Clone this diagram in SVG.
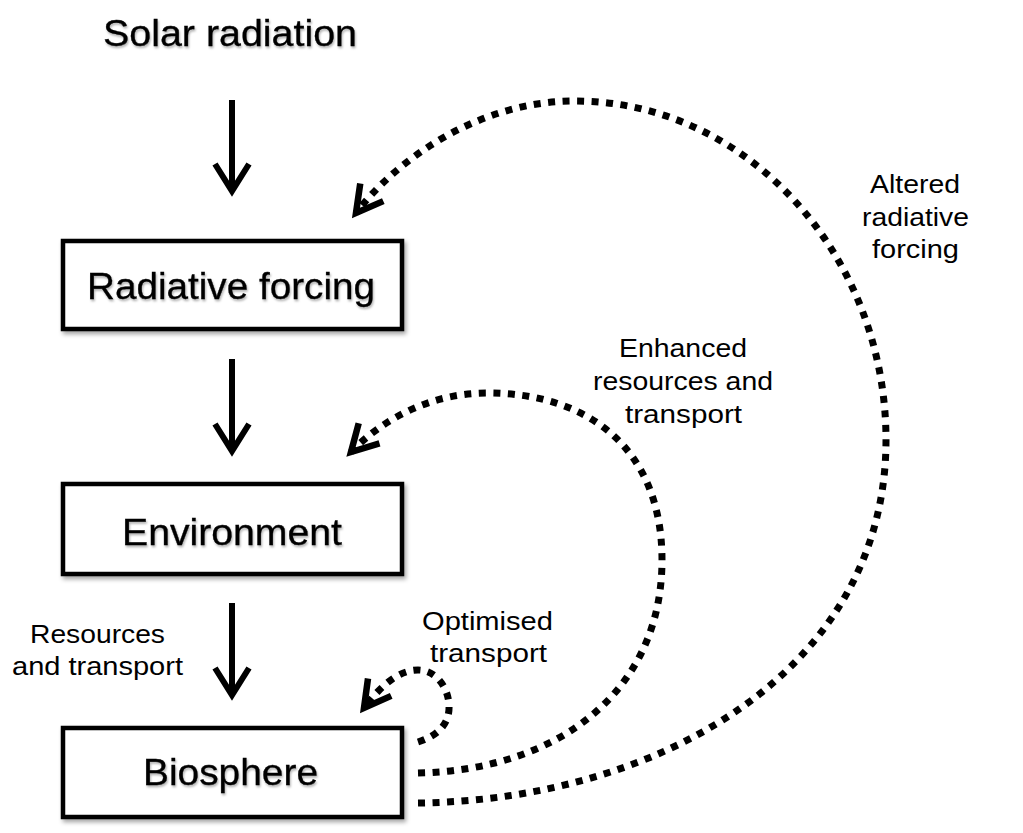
<svg xmlns="http://www.w3.org/2000/svg" width="1023" height="833" viewBox="0 0 1023 833">
  <style>
    .box { fill: #ffffff; stroke: #000000; stroke-width: 4.5; }
    .big { font-family: "Liberation Sans", Arial, Helvetica, sans-serif; font-size: 36px; fill: #000000; text-anchor: middle; stroke: #000000; stroke-width: 0.3; }
    .lbl { font-family: "Liberation Sans", Arial, Helvetica, sans-serif; font-size: 25px; fill: #000000; text-anchor: middle; }
    .solid { fill: none; stroke: #000000; stroke-width: 6; marker-end: url(#solidHead); }
    .dotted { fill: none; stroke: #000000; stroke-width: 7; stroke-dasharray: 7 7.5; stroke-linecap: butt; marker-end: url(#dotHead); }
  </style>
  <defs>
    <filter id="shadow" x="-10%" y="-10%" width="130%" height="140%">
      <feDropShadow dx="2" dy="3" stdDeviation="2" flood-color="#000000" flood-opacity="0.35"/>
    </filter>
    <filter id="tshadow" x="-5%" y="-20%" width="115%" height="150%">
      <feDropShadow dx="1" dy="2" stdDeviation="1.2" flood-color="#000000" flood-opacity="0.3"/>
    </filter>
    <marker id="solidHead" markerUnits="userSpaceOnUse" orient="auto" refX="0" refY="0" markerWidth="60" markerHeight="60" viewBox="-40 -30 60 60" overflow="visible">
      <path d="M-27,-17 L0,0 L-27,17" fill="none" stroke="#000000" stroke-width="6" stroke-linejoin="miter"/>
    </marker>
    <marker id="dotHead" markerUnits="userSpaceOnUse" orient="auto" refX="0" refY="0" markerWidth="60" markerHeight="60" viewBox="-40 -30 60 60" overflow="visible">
      <path d="M-26,-14.5 L0,0 L-26,14.5" fill="none" stroke="#000000" stroke-width="6.5" stroke-linejoin="miter"/>
    </marker>
  </defs>

  <g id="solar">
    <text class="big" x="230" y="46" font-size="40" textLength="254" lengthAdjust="spacingAndGlyphs" filter="url(#tshadow)">Solar radiation</text>
  </g>

  <g id="radiative-forcing">
    <rect class="box" x="63" y="241" width="339" height="88" filter="url(#shadow)"/>
    <text class="big" x="231" y="299" textLength="288" lengthAdjust="spacingAndGlyphs" filter="url(#tshadow)">Radiative forcing</text>
  </g>

  <g id="environment">
    <rect class="box" x="63" y="484" width="339" height="90" filter="url(#shadow)"/>
    <text class="big" x="232" y="545" textLength="220" lengthAdjust="spacingAndGlyphs" filter="url(#tshadow)">Environment</text>
  </g>

  <g id="biosphere">
    <rect class="box" x="63" y="728" width="339" height="89" filter="url(#shadow)"/>
    <text class="big" x="230.5" y="785" textLength="175" lengthAdjust="spacingAndGlyphs" filter="url(#tshadow)">Biosphere</text>
  </g>

  <g id="connectors">
    <line class="solid" x1="232" y1="100" x2="232" y2="191"/>
    <line class="solid" x1="232" y1="359" x2="232" y2="451"/>
    <line class="solid" x1="232" y1="603" x2="232" y2="695"/>

    <path class="dotted" d="M418,803 C660,800 886,670 886,440 C886,254 746,101 575,101 C480,101 398,158 356,213"/>
    <path class="dotted" d="M418,773 C560,770 662,690 662,560 C662,450 590,393 487,393 C432,393 384,418 351,452"/>
    <path class="dotted" d="M418,742 C440,735 450,722 449,705 C448,686 435,670 418,670 C400,670 382,684 364,708"/>
  </g>

  <g id="labels">
    <text class="lbl" x="97.5" y="643" textLength="135" lengthAdjust="spacingAndGlyphs">Resources</text>
    <text class="lbl" x="97.5" y="675" textLength="171" lengthAdjust="spacingAndGlyphs">and transport</text>

    <text class="lbl" x="487.5" y="630" textLength="131" lengthAdjust="spacingAndGlyphs">Optimised</text>
    <text class="lbl" x="488.5" y="662" textLength="117" lengthAdjust="spacingAndGlyphs">transport</text>

    <text class="lbl" x="683" y="357" textLength="128" lengthAdjust="spacingAndGlyphs">Enhanced</text>
    <text class="lbl" x="683" y="390" textLength="180" lengthAdjust="spacingAndGlyphs">resources and</text>
    <text class="lbl" x="683.5" y="423" textLength="117" lengthAdjust="spacingAndGlyphs">transport</text>

    <text class="lbl" x="915" y="193" textLength="90" lengthAdjust="spacingAndGlyphs">Altered</text>
    <text class="lbl" x="915.5" y="226" textLength="107" lengthAdjust="spacingAndGlyphs">radiative</text>
    <text class="lbl" x="915.5" y="258" textLength="87" lengthAdjust="spacingAndGlyphs">forcing</text>
  </g>
</svg>
